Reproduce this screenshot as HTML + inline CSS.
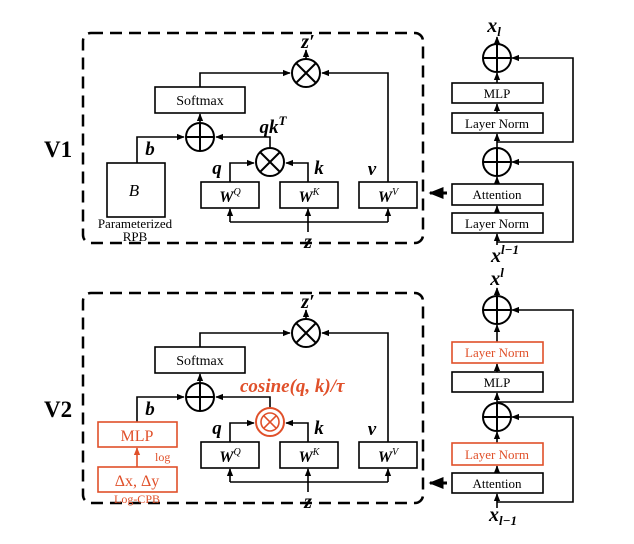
<!DOCTYPE html>
<html><head><meta charset="utf-8"><style>
html,body{margin:0;padding:0;background:#fff;}
svg{display:block;}
text{font-family:"Liberation Serif",serif;}
.bi{font-weight:bold;font-style:italic;}
</style></head><body>
<svg width="634" height="544" viewBox="0 0 634 544" xmlns="http://www.w3.org/2000/svg">
<defs>
<marker id="a" viewBox="0 0 10 10" refX="9" refY="5" markerWidth="5" markerHeight="5" orient="auto"><path d="M0,1 L10,5 L0,9 z" fill="#000"/></marker>
<marker id="ar" viewBox="0 0 10 10" refX="9" refY="5" markerWidth="5" markerHeight="5" orient="auto"><path d="M0,1 L10,5 L0,9 z" fill="#e0502a"/></marker>
<g id="otimes"><circle cx="0" cy="0" r="14" fill="#fff" stroke="#000" stroke-width="2"/><path d="M-10,-10 L10,10 M10,-10 L-10,10" stroke="#000" stroke-width="2"/></g>
<g id="oplus"><circle cx="0" cy="0" r="14" fill="#fff" stroke="#000" stroke-width="2"/><path d="M-14,0 L14,0 M0,-14 L0,14" stroke="#000" stroke-width="2"/></g>
</defs>

<text x="44" y="157" font-size="23" font-weight="bold">V1</text>
<text x="44" y="417" font-size="23" font-weight="bold">V2</text>

<g id="blk1">
<rect x="83" y="33" width="340" height="210" rx="8" fill="none" stroke="#000" stroke-width="2.5" stroke-dasharray="12,7"/>
<g fill="none" stroke="#000" stroke-width="1.6">
<path d="M200,87 L200,73 L290,73" marker-end="url(#a)"/>
<path d="M388,182 L388,73 L322,73" marker-end="url(#a)"/>
<path d="M306,59 L306,50" marker-end="url(#a)"/>
<path d="M200,123 L200,114" marker-end="url(#a)"/>
<path d="M270,148 L270,137 L216,137" marker-end="url(#a)"/>
<path d="M230,182 L230,163 L254,163" marker-end="url(#a)"/>
<path d="M308,182 L308,163 L286,163" marker-end="url(#a)"/>
<path d="M230,222 L388,222"/>
<path d="M230,222 L230,209" marker-end="url(#a)"/>
<path d="M388,222 L388,209" marker-end="url(#a)"/>
<path d="M308,232 L308,209" marker-end="url(#a)"/>
</g>
<rect x="155" y="87" width="90" height="26" fill="#fff" stroke="#000" stroke-width="1.6"/>
<text x="200" y="105" font-size="14" text-anchor="middle">Softmax</text>
<use href="#otimes" x="306" y="73"/>
<use href="#oplus" x="200" y="137"/>
<text x="308" y="48" font-size="20" class="bi" text-anchor="middle">z′</text>
<rect x="201" y="182" width="58" height="26" fill="#fff" stroke="#000" stroke-width="1.6"/>
<rect x="280" y="182" width="58" height="26" fill="#fff" stroke="#000" stroke-width="1.6"/>
<rect x="359" y="182" width="58" height="26" fill="#fff" stroke="#000" stroke-width="1.6"/>
<text x="230" y="202" font-size="16" class="bi" text-anchor="middle">W<tspan font-size="10" dy="-7" font-weight="normal">Q</tspan></text>
<text x="309" y="202" font-size="16" class="bi" text-anchor="middle">W<tspan font-size="10" dy="-7" font-weight="normal">K</tspan></text>
<text x="388" y="202" font-size="16" class="bi" text-anchor="middle">W<tspan font-size="10" dy="-7" font-weight="normal">V</tspan></text>
<text x="217" y="174" font-size="19" class="bi" text-anchor="middle">q</text>
<text x="319" y="174" font-size="19" class="bi" text-anchor="middle">k</text>
<text x="372" y="175" font-size="19" class="bi" text-anchor="middle">v</text>
<text x="150" y="155" font-size="19" class="bi" text-anchor="middle">b</text>
<text x="308" y="248" font-size="20" class="bi" text-anchor="middle">z</text>
</g>

<g fill="none" stroke="#000" stroke-width="1.6">
<path d="M137,163 L137,137 L184,137" marker-end="url(#a)"/>
</g>
<use href="#otimes" x="270" y="162"/>
<text x="273" y="133" font-size="19" class="bi" text-anchor="middle">qk<tspan font-size="13" dy="-8">T</tspan></text>
<rect x="107" y="163" width="58" height="54" fill="#fff" stroke="#000" stroke-width="1.6"/>
<text x="134" y="196" font-size="17" font-style="italic" text-anchor="middle">B</text>
<text x="135" y="228" font-size="13" text-anchor="middle">Parameterized</text>
<text x="135" y="241" font-size="13" text-anchor="middle">RPB</text>

<use href="#blk1" x="0" y="260"/>
<g fill="none" stroke="#000" stroke-width="1.6">
<path d="M137,422 L137,397 L184,397" marker-end="url(#a)"/>
</g>
<circle cx="270" cy="422" r="14" fill="#fff" stroke="#e0502a" stroke-width="2"/>
<circle cx="270" cy="422" r="9" fill="none" stroke="#e0502a" stroke-width="1.6"/>
<path d="M263.6,415.6 L276.4,428.4 M276.4,415.6 L263.6,428.4" stroke="#e0502a" stroke-width="1.6"/>
<text x="240" y="392" font-size="19" class="bi" fill="#e0502a">cosine(q, k)/τ</text>
<rect x="98" y="422" width="79" height="25" fill="#fff" stroke="#e0502a" stroke-width="1.6"/>
<text x="137" y="441" font-size="16" fill="#e0502a" text-anchor="middle">MLP</text>
<path d="M137,467 L137,448" stroke="#e0502a" stroke-width="1.6" marker-end="url(#ar)"/>
<text x="155" y="461" font-size="12" fill="#e0502a">log</text>
<rect x="98" y="467" width="79" height="25" fill="#fff" stroke="#e0502a" stroke-width="1.6"/>
<text x="137" y="486" font-size="16" fill="#e0502a" text-anchor="middle">Δx, Δy</text>
<text x="137" y="503" font-size="12" fill="#e0502a" text-anchor="middle">Log-CPB</text>

<g fill="none" stroke="#000" stroke-width="1.6">
<path d="M497,45 L497,37" marker-end="url(#a)"/>
<path d="M497,83 L497,73" marker-end="url(#a)"/>
<path d="M497,113 L497,104" marker-end="url(#a)"/>
<path d="M497,148 L497,134" marker-end="url(#a)"/>
<path d="M497,184 L497,177" marker-end="url(#a)"/>
<path d="M497,213 L497,206" marker-end="url(#a)"/>
<path d="M497,245 L497,234" marker-end="url(#a)"/>
<path d="M497,142 L573,142 L573,58 L512,58" marker-end="url(#a)"/>
<path d="M497,242 L573,242 L573,162 L512,162" marker-end="url(#a)"/>
</g>
<path d="M447,193 L430,193" stroke="#000" stroke-width="3" marker-end="url(#a)"/>
<use href="#oplus" x="497" y="58"/>
<use href="#oplus" x="497" y="162"/>
<rect x="452" y="83" width="91" height="20" fill="#fff" stroke="#000" stroke-width="1.6"/>
<text x="497" y="98" font-size="13" text-anchor="middle">MLP</text>
<rect x="452" y="113" width="91" height="20" fill="#fff" stroke="#000" stroke-width="1.6"/>
<text x="497" y="128" font-size="13" text-anchor="middle">Layer Norm</text>
<rect x="452" y="184" width="91" height="21" fill="#fff" stroke="#000" stroke-width="1.6"/>
<text x="497" y="199" font-size="13" text-anchor="middle">Attention</text>
<rect x="452" y="213" width="91" height="20" fill="#fff" stroke="#000" stroke-width="1.6"/>
<text x="497" y="228" font-size="13" text-anchor="middle">Layer Norm</text>
<text x="494" y="32" font-size="20" class="bi" text-anchor="middle">x<tspan font-size="13" dy="4">l</tspan></text>
<text x="505" y="262" font-size="20" class="bi" text-anchor="middle">x<tspan font-size="13" dy="-8">l−1</tspan></text>

<g fill="none" stroke="#000" stroke-width="1.6">
<path d="M497,296 L497,288" marker-end="url(#a)"/>
<path d="M497,342 L497,325" marker-end="url(#a)"/>
<path d="M497,372 L497,364" marker-end="url(#a)"/>
<path d="M497,403 L497,393" marker-end="url(#a)"/>
<path d="M497,443 L497,432" marker-end="url(#a)"/>
<path d="M497,473 L497,466" marker-end="url(#a)"/>
<path d="M497,508 L497,494" marker-end="url(#a)"/>
<path d="M497,402 L573,402 L573,310 L512,310" marker-end="url(#a)"/>
<path d="M497,502 L573,502 L573,417 L512,417" marker-end="url(#a)"/>
</g>
<path d="M447,483 L430,483" stroke="#000" stroke-width="3" marker-end="url(#a)"/>
<use href="#oplus" x="497" y="310"/>
<use href="#oplus" x="497" y="417"/>
<rect x="452" y="342" width="91" height="21" fill="#fff" stroke="#e0502a" stroke-width="1.6"/>
<text x="497" y="357" font-size="13" fill="#e0502a" text-anchor="middle">Layer Norm</text>
<rect x="452" y="372" width="91" height="20" fill="#fff" stroke="#000" stroke-width="1.6"/>
<text x="497" y="387" font-size="13" text-anchor="middle">MLP</text>
<rect x="452" y="443" width="91" height="22" fill="#fff" stroke="#e0502a" stroke-width="1.6"/>
<text x="497" y="459" font-size="13" fill="#e0502a" text-anchor="middle">Layer Norm</text>
<rect x="452" y="473" width="91" height="20" fill="#fff" stroke="#000" stroke-width="1.6"/>
<text x="497" y="488" font-size="13" text-anchor="middle">Attention</text>
<text x="497" y="285" font-size="20" class="bi" text-anchor="middle">x<tspan font-size="13" dy="-8">l</tspan></text>
<text x="503" y="521" font-size="20" class="bi" text-anchor="middle">x<tspan font-size="13" dy="4">l−1</tspan></text>
</svg>
</body></html>
